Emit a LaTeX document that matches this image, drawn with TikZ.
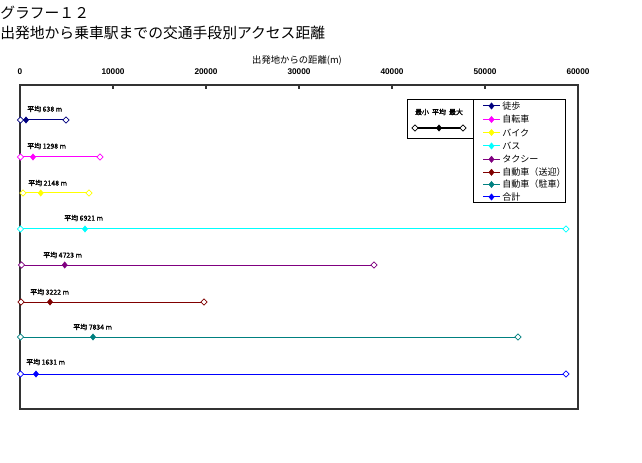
\documentclass[tikz,border=0pt]{standalone}
\usepackage{fontspec}
\setmainfont{Liberation Sans}
\newfontfamily\jp{Noto Sans CJK JP}
\newfontfamily\jpb[FakeBold=1.6]{Noto Sans CJK JP}
\usetikzlibrary{shapes.geometric}
\definecolor{frm}{RGB}{51,51,51}
\definecolor{cA}{RGB}{0,0,128}
\definecolor{cB}{RGB}{255,0,255}
\definecolor{cC}{RGB}{255,255,0}
\definecolor{cD}{RGB}{0,255,255}
\definecolor{cE}{RGB}{128,0,128}
\definecolor{cF}{RGB}{128,0,0}
\definecolor{cG}{RGB}{0,128,128}
\definecolor{cH}{RGB}{0,0,255}
\tikzset{
  omark/.style={diamond, draw=#1, fill=white, inner sep=0pt, minimum width=4.8pt, minimum height=4.8pt, line width=0.5pt},
  fmark/.style={diamond, draw=#1, fill=#1, inner sep=0pt, minimum width=4pt, minimum height=4.8pt},
  serline/.style={draw=#1, line width=0.75pt},
  avglabel/.style={anchor=west, inner sep=0pt, font=\jpb\fontsize{5.2pt}{6pt}\selectfont},
  ticklabel/.style={inner sep=0pt, font=\fontsize{6.2pt}{7pt}\selectfont\bfseries},
  legtext/.style={anchor=west, inner sep=0pt, font=\jp\fontsize{6.8pt}{8pt}\selectfont},
  frameline/.style={draw=frm, line width=0.85pt},
  boxline/.style={draw=black, line width=0.75pt}
}
\begin{document}
\begin{tikzpicture}[x=0.75pt, y=-0.75pt]
\useasboundingbox[fill=white] (0,0) rectangle (642,463);
% titles
\node[anchor=west, inner sep=0pt, font=\jp\fontsize{11.1pt}{13pt}\selectfont] (t1) at (0,13) {グラフー１２};
\node[anchor=west, inner sep=0pt, font=\jp\fontsize{11.1pt}{13pt}\selectfont] (t2) at (0,33) {出発地から乗車駅までの交通手段別アクセス距離};
\node[inner sep=0pt, font=\jp\fontsize{7pt}{8pt}\selectfont] (xt) at (297,60) {出発地からの距離(m)};
% plot frame
\draw[frameline] (20,85) rectangle (578,409);
\foreach \k/\v in {0/0,1/10000,2/20000,3/30000,4/40000,5/50000,6/60000}{
  \draw[frameline] ({20+93*\k},85) -- ({20+93*\k},89);
  \node[ticklabel] (tk\k) at ({20+93*\k},72) {\v};
}
% series
\foreach \i/\c/\yy/\mn/\av/\mx/\lx/\ly/\lab in {
  1/cA/120/20.5/26/66/27/109/638,
  2/cB/157/20.5/33/100/27/146/1298,
  3/cC/193/23/40.7/89/28/183/2148,
  4/cD/229/20.5/85/566/64/218/6921,
  5/cE/265/21.5/64.7/374/43/255/4723,
  6/cF/302/21/50/204/30/292/3222,
  7/cG/337/20.5/93/518/73/327/7834,
  8/cH/374/20.5/36/566/26/362/1631}{
  \coordinate (pa\i) at (\mn,\yy);
  \coordinate (pb\i) at (\mx,\yy);
  \draw[serline=\c] (pa\i) -- (pb\i);
  \node[omark=\c] (mn\i) at (pa\i) {};
  \node[omark=\c] (mx\i) at (pb\i) {};
  \node[fmark=\c] (av\i) at (\av,\yy) {};
  \node[avglabel] (lb\i) at (\lx,\ly) {平均 \lab\ m};
}
% legend box 1
\draw[boxline] (407,100) rectangle (473,139);
\node[inner sep=0pt, font=\jpb\fontsize{5.2pt}{6pt}\selectfont] (lk) at (439,112) {最小\ \ 平均\ \ 最大};
\coordinate (la) at (415,128);
\coordinate (lc) at (463,128);
\draw[draw=black, line width=1.6pt] (la) -- (lc);
\node[omark=black] (lam) at (la) {};
\node[omark=black] (lcm) at (lc) {};
\node[fmark=black] (lbm) at (439,128) {};
% legend box 2
\draw[boxline] (473,100) rectangle (565,203);
\foreach \i/\c/\yy/\txt in {
  1/cA/106/徒歩,
  2/cB/119.5/自転車,
  3/cC/132.5/バイク,
  4/cD/146/バス,
  5/cE/159.3/タクシー,
  6/cF/172.3/自動車（送迎）,
  7/cG/184.5/自動車（駐車）,
  8/cH/197/合計}{
  \coordinate (ga\i) at (483,\yy);
  \coordinate (gb\i) at (500,\yy);
  \draw[serline=\c] (ga\i) -- (gb\i);
  \node[fmark=\c] (gm\i) at (491.5,\yy) {};
  \node[legtext] (gt\i) at (502,\yy) {\txt};
}
\end{tikzpicture}
\end{document}
